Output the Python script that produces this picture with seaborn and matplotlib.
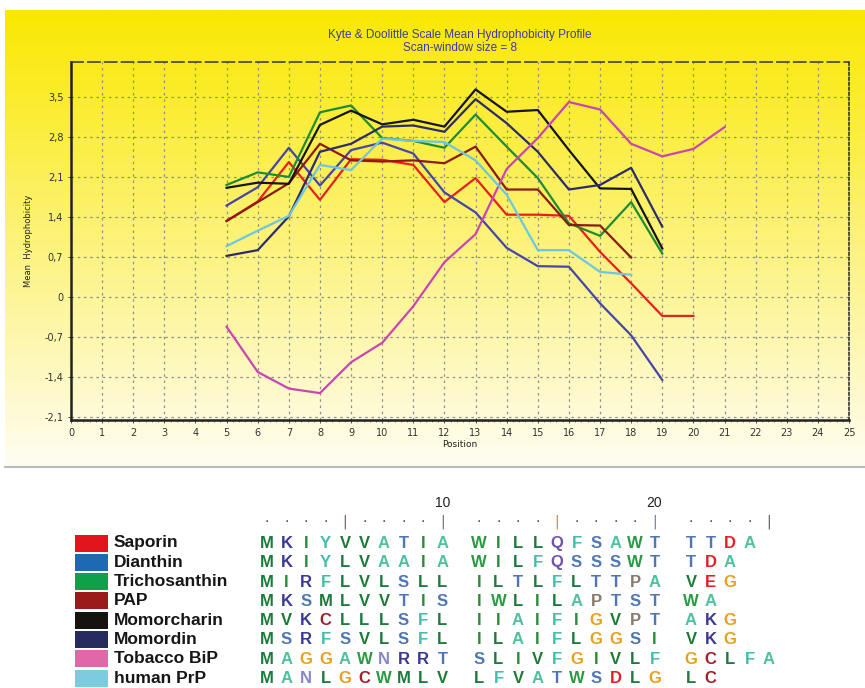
import numpy as np
import pandas as pd
import matplotlib
matplotlib.use("Agg")
import matplotlib.pyplot as plt
import seaborn as sns

# ---- data ----
proteins = ["Saporin", "Dianthin", "Trichosanthin", "PAP",
            "Momorcharin", "Momordin", "Tobacco BiP", "human PrP"]

saporin = [1.33, 1.67, 2.36, 1.70, 2.41, 2.40, 2.31, 1.66, 2.08, 1.44, 1.44, 1.42, 0.79, 0.24, -0.33, -0.33]
dianthin = [1.60, 1.92, 2.61, 1.95, 2.57, 2.70, 2.51, 1.83, 1.48, 0.86, 0.54, 0.53, -0.11, -0.67, -1.45]
trichosanthin = [1.96, 2.18, 2.10, 3.23, 3.35, 2.78, 2.73, 2.61, 3.19, 2.63, 2.08, 1.29, 1.07, 1.66, 0.76]
pap = [1.33, 1.66, 1.99, 2.68, 2.39, 2.37, 2.39, 2.34, 2.63, 1.88, 1.88, 1.26, 1.25, 0.69]
momorcharin = [1.91, 2.00, 1.98, 3.01, 3.26, 3.02, 3.10, 2.98, 3.63, 3.24, 3.27, 2.57, 1.90, 1.89, 0.85]
momordin = [0.72, 0.82, 1.41, 2.54, 2.68, 2.98, 3.00, 2.89, 3.46, 3.04, 2.54, 1.88, 1.96, 2.26, 1.23]
tobacco = [-0.52, -1.31, -1.60, -1.68, -1.14, -0.80, -0.16, 0.61, 1.10, 2.24, 2.78, 3.41, 3.28, 2.68, 2.46, 2.59, 2.97]
prp = [0.89, 1.16, 1.42, 2.31, 2.22, 2.77, 2.73, 2.71, 2.39, 1.79, 0.82, 0.82, 0.44, 0.39]

first_pos = 5
yticks = [-2.1, -1.4, -0.7, 0, 0.7, 1.4, 2.1, 2.8, 3.5]

# aligned signal sequences (blocks of 10)
sequences = [
    ["MKIYVVATIA", "WILLQFSAWT", "TTDA"],
    ["MKIYLVAAIA", "WILFQSSSWT", "TDA"],
    ["MIRFLVLSLL", "ILTLFLTTPA", "VEG"],
    ["MKSMLVVTIS", "IWLILAPTST", "WA"],
    ["MVKCLLLSFL", "IIAIFIGVPT", "AKG"],
    ["MSRFSVLSFL", "ILAIFLGGSI", "VKG"],
    ["MAGGAWNRRT", "SLIVFGIVLF", "GCLFA"],
    ["MANLGCWMLV", "LFVATWSDLG", "LC"],
]

line_colors = ["#e8201c", "#4646a8", "#1e8c32", "#8b1a10",
               "#151515", "#2c2c6c", "#c945b5", "#6cc8e2"]
box_colors = ["#e3151c", "#1d6ab4", "#10a04a", "#9a1b19",
              "#161210", "#272a5e", "#e068a8", "#7dcbde"]

aa_colors = {
    "M": "#1b7b3b", "I": "#2e8b3a", "L": "#1e7a40", "V": "#1e7a35", "W": "#2a9a45",
    "F": "#40bfaa", "Y": "#40bfaa", "A": "#50c0a0",
    "C": "#a0202a", "K": "#3a3a95", "R": "#3a3a95",
    "S": "#5077b5", "T": "#5077b5", "N": "#8888c8", "Q": "#7055a8",
    "G": "#e8a020", "P": "#8a7868", "D": "#e41e26", "E": "#e41e26",
}

rows = []
for name, vals in zip(proteins, [saporin, dianthin, trichosanthin, pap,
                                 momorcharin, momordin, tobacco, prp]):
    for i, v in enumerate(vals):
        rows.append({"Protein": name, "Position": first_pos + i, "Hydrophobicity": v})
df = pd.DataFrame(rows)

W, H = 865, 688
fig = plt.figure(figsize=(W / 100, H / 100), dpi=100)
fig.patch.set_facecolor("white")

# yellow gradient panel
bg = fig.add_axes([5 / W, (H - 466) / H, 860 / W, 456 / H])
top = np.array([250, 232, 0]) / 255
bot = np.array([255, 253, 242]) / 255
t = np.linspace(0, 1, 256)[:, None]
grad = top[None, :] * (1 - t) + bot[None, :] * t
bg.imshow(grad[:, None, :], aspect="auto", extent=[0, 1, 0, 1])
bg.axis("off")
# separator line
fig.add_artist(plt.Line2D([5 / W, 1], [(H - 467) / H] * 2, color="#bbbbbb", lw=1.5))

ax = fig.add_axes([71 / W, (H - 420) / H, 778 / W, 358 / H])
ax.patch.set_alpha(0)
sns.lineplot(data=df, x="Position", y="Hydrophobicity", hue="Protein",
             hue_order=proteins, palette=line_colors, linewidth=1.6,
             legend=False, ax=ax)

ax.set_xlim(0, 25)
ax.set_ylim(-2.15, 4.11)
ax.set_xticks(range(0, 26))
ax.set_xticks(np.arange(0, 25.01, 0.2), minor=True)
ax.set_yticks(yticks)
ax.set_yticklabels([("%g" % v).replace(".", ",") for v in yticks])
ax.tick_params(axis="both", labelsize=7, colors="#333333", length=2, width=0.6)
ax.tick_params(axis="x", which="minor", length=1.5, width=0.5, colors="#555555")
ax.grid(True, which="major", color="#8f8f8f", linestyle=(0, (2, 3)), linewidth=0.9)
ax.set_axisbelow(True)
for s in ["left", "bottom"]:
    ax.spines[s].set_linewidth(1.8)
    ax.spines[s].set_color("#222222")
ax.spines["top"].set_linestyle((0, (8, 3)))
ax.spines["top"].set_linewidth(1.1)
ax.spines["top"].set_color("#333333")
ax.spines["right"].set_linestyle((0, (1.5, 1.5)))
ax.spines["right"].set_linewidth(1.2)
ax.spines["right"].set_color("#333333")
ax.set_xlabel("Position", fontsize=6.5, color="#222222", labelpad=2)
ax.set_ylabel("Mean  Hydrophobicity", fontsize=6, color="#222222", labelpad=8)

fig.text(460 / W, 1 - 35 / H, "Kyte & Doolittle Scale Mean Hydrophobicity Profile",
         ha="center", va="center", fontsize=8.5, color="#3c3ca0", family="Liberation Sans")
fig.text(460 / W, 1 - 48 / H, "Scan-window size = 8",
         ha="center", va="center", fontsize=8.5, color="#3c3ca0", family="Liberation Sans")

# ---- alignment panel, drawn in pixel units ----
al = fig.add_axes([0, 0, 1, (H - 470) / H])
al.set_xlim(0, W)
al.set_ylim(H, 470)
al.axis("off")


def col_x(c):
    # c is 0-based column; blocks of 10 separated by a gap
    return 267 + c * 19.5 + (c // 10) * 17


row_y0, row_dy = 543, 19.3
for r, (name, blocks) in enumerate(zip(proteins, sequences)):
    y = row_y0 + r * row_dy
    al.add_patch(plt.Rectangle((75, y - 8.5), 33, 17, color=box_colors[r], lw=0))
    al.text(114, y, name, ha="left", va="center", fontsize=12.5,
            fontweight="bold", color="#161616", family="Liberation Sans")
    for b, blk in enumerate(blocks):
        for j, aa in enumerate(blk):
            al.text(col_x(b * 10 + j), y + 0.5, aa, ha="center", va="center",
                    fontsize=12, fontweight="bold", color=aa_colors[aa],
                    family="Liberation Sans")

# ruler
bar_colors = {5: "#6a5a5a", 10: "#5a6a8a", 15: "#d08030", 20: "#6a7a9a", 25: "#555555"}
for c in range(1, 26):
    x = col_x(c - 1)
    if c % 5 == 0:
        al.text(x, 522, "|", ha="center", va="center", fontsize=10, color=bar_colors[c])
    else:
        al.text(x, 525, ".", ha="center", va="bottom", fontsize=10, color="#444444")
for c in (10, 20):
    al.text(col_x(c - 1), 503, str(c), ha="center", va="center", fontsize=10,
            color="#222222", family="Liberation Sans")

fig.savefig("out.png", dpi=100, facecolor="white")
